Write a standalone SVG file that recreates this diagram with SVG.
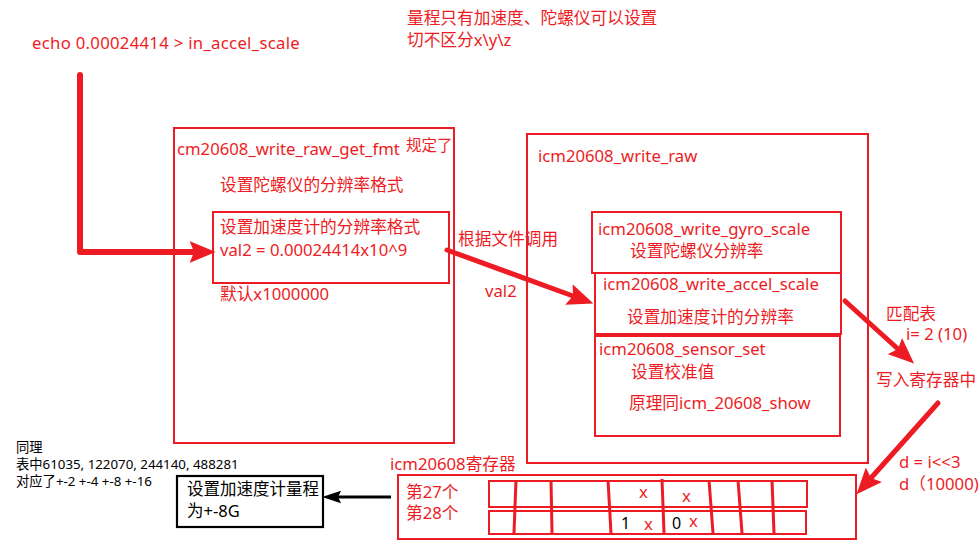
<svg xmlns="http://www.w3.org/2000/svg" width="980" height="551" viewBox="0 0 980 551">
<defs>
<style>
text{font-family:"Noto Sans","Noto Sans CJK SC",sans-serif;}
.t{fill:#ED1C24;font-size:16.7px;}
.s{fill:#ED1C24;font-size:15.5px;}
.k{fill:#000;font-size:13.3px;}
.kb{fill:#000;font-size:16.5px;}
.box{fill:none;stroke:#ED1C24;stroke-width:2;}
.bbox{fill:none;stroke:#000;stroke-width:2.2;}
.arr{fill:none;stroke:#ED1C24;stroke-linecap:round;stroke-linejoin:round;marker-end:url(#rh);}
.vl{stroke:#ED1C24;stroke-width:3;}
</style>
<marker id="rh" markerUnits="userSpaceOnUse" markerWidth="26" markerHeight="22" refX="4" refY="10" orient="auto" viewBox="0 0 24 20">
<path d="M0,0 L24,10 L0,20 L4,10 z" fill="#ED1C24"/>
</marker>
<marker id="kh" markerUnits="userSpaceOnUse" markerWidth="19" markerHeight="13" refX="3" refY="6" orient="auto" viewBox="0 0 18 12">
<path d="M0,0 L18,6 L0,12 L3,6 z" fill="#000"/>
</marker>
</defs>
<rect width="980" height="551" fill="#fff"/>

<g id="notes">
<text class="t" x="32" y="49" letter-spacing="0.3">echo 0.00024414 &gt; in_accel_scale</text>
<text class="t" x="407" y="24">量程只有加速度、陀螺仪可以设置</text>
<text class="t" x="407" y="46">切不区分x\y\z</text>
<text class="t" x="458" y="245">根据文件调用</text>
<text class="t" x="485" y="297">val2</text>
<text class="t" x="886" y="320">匹配表</text>
<text class="t" x="906" y="340">i= 2 (10)</text>
<text class="t" x="876" y="386">写入寄存器中</text>
<text class="t" x="899" y="468">d = i&lt;&lt;3</text>
<text class="t" x="899" y="490">d（10000)</text>
<text class="k" x="16" y="452">同理</text>
<text class="k" x="16" y="469">表中61035, 122070, 244140, 488281</text>
<text class="k" x="16" y="486">对应了+-2 +-4 +-8 +-16</text>
</g>

<g id="get_fmt">
<rect class="box" x="174" y="128" width="280" height="315"/>
<text class="t" x="177" y="155">cm20608_write_raw_get_fmt</text>
<text class="s" x="406" y="151">规定了</text>
<text class="t" x="220" y="191">设置陀螺仪的分辨率格式</text>
<text class="t" x="220" y="300">默认x1000000</text>
</g>

<g id="accel_fmt">
<rect class="box" x="213" y="212" width="236" height="71"/>
<text class="t" x="220" y="233">设置加速度计的分辨率格式</text>
<text class="t" x="220" y="256">val2 = 0.00024414x10^9</text>
</g>

<g id="write_raw">
<rect class="box" x="527" y="134" width="341" height="329"/>
<text class="t" x="538" y="162">icm20608_write_raw</text>
</g>

<g id="gyro_scale">
<rect class="box" x="592" y="212" width="249" height="61"/>
<text class="t" x="598" y="235">icm20608_write_gyro_scale</text>
<text class="t" x="630" y="257">设置陀螺仪分辨率</text>
</g>

<g id="accel_scale">
<rect class="box" x="595" y="273" width="246" height="61"/>
<text class="t" x="603" y="290">icm20608_write_accel_scale</text>
<text class="t" x="627" y="323">设置加速度计的分辨率</text>
</g>

<g id="sensor_set">
<rect class="box" x="595" y="336" width="245" height="100"/>
<text class="t" x="599" y="355">icm20608_sensor_set</text>
<text class="t" x="631" y="378">设置校准值</text>
<text class="t" x="629" y="409">原理同icm_20608_show</text>
</g>

<g id="register">
<text class="t" x="390" y="470">icm20608寄存器</text>
<rect class="box" x="398" y="475" width="458" height="64"/>
<text class="t" x="406" y="498">第27个</text>
<text class="t" x="406" y="519">第28个</text>
<rect class="box" x="489" y="481" width="318" height="26"/>
<rect class="box" x="489" y="511" width="317" height="23"/>
<line class="vl" x1="516" y1="480" x2="514" y2="533"/>
<line class="vl" x1="551" y1="480" x2="552" y2="533"/>
<line class="vl" x1="608" y1="480" x2="611" y2="533"/>
<line class="vl" x1="662" y1="479" x2="664" y2="533"/>
<line class="vl" x1="709" y1="480" x2="713" y2="533"/>
<line class="vl" x1="738" y1="480" x2="742" y2="533"/>
<line class="vl" x1="772" y1="480" x2="774" y2="533"/>
<text class="t" x="639" y="498">x</text>
<text class="t" x="682" y="502">x</text>
<text class="kb" x="621" y="529" style="font-size:16px">1</text>
<text class="t" x="644" y="530">x</text>
<text class="kb" x="672" y="529" style="font-size:16px">0</text>
<text class="t" x="689" y="527">x</text>
</g>

<g id="range_8g">
<rect class="bbox" x="177" y="476" width="146" height="51"/>
<text class="kb" x="187" y="495">设置加速度计量程</text>
<text class="kb" x="187" y="517">为+-8G</text>
</g>

<g id="connectors">
<path class="arr" stroke-width="6" d="M80,75 L80,252 L194,252"/>
<path class="arr" stroke-width="5" d="M447,250 L573,296"/>
<path class="arr" stroke-width="5" d="M845,301 L898,349"/>
<path class="arr" stroke-width="5" d="M938,403 L871,478"/>
<path fill="none" stroke="#000" stroke-width="3" marker-end="url(#kh)" d="M391,497 L338,497"/>
</g>
</svg>
